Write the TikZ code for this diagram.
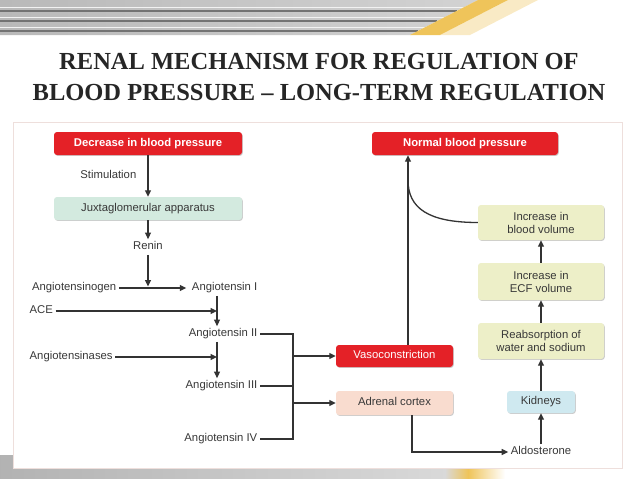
\documentclass[tikz,border=0pt]{standalone}
\usepackage{fontspec}
\setmainfont{Liberation Sans}
\newfontfamily\titlefont[Ligatures=TeX]{Liberation Serif}
\usetikzlibrary{arrows.meta,shadows}
\definecolor{bpred}{HTML}{E42127}
\definecolor{jgagreen}{HTML}{D3EADF}
\definecolor{volyellow}{HTML}{EDEFC8}
\definecolor{adrpeach}{HTML}{F9DCCF}
\definecolor{kidblue}{HTML}{CFE9F0}
\definecolor{txt}{HTML}{383838}
\definecolor{txtline}{HTML}{333333}
\definecolor{titlegray}{HTML}{262626}
\definecolor{bandyellow}{HTML}{EFC45A}
\definecolor{panelrim}{HTML}{EEDFDC}
\newcommand{\bodyfont}{\fontsize{11.3}{13}\selectfont}

\begin{document}
\begin{tikzpicture}[x = 1pt, y = -1pt,
	every node/.style = {font = \bodyfont, text = txt},
	lbl/.style = {text height = 8pt, text depth = 2.4pt, inner sep = 2.5pt},
	boxshadow/.style = {drop shadow = {shadow xshift = .8pt, shadow yshift = -.9pt, fill = black, opacity = .2}},
	box/.style = {lbl, rounded corners = 3pt, minimum height = 23pt, boxshadow},
	redbox/.style = {box, fill = bpred, text = white},
	tallbox/.style = {rounded corners = 3pt, align = center, fill = volyellow, minimum width = 126pt, minimum height = 36pt, boxshadow},
	ln/.style = {draw = txtline, line width = 1.3pt},
	arr/.style = {ln, -{Triangle[length = 6.5pt, width = 6pt]}}]
	\useasboundingbox (0, 0) rectangle (638, 479);

	% top and bottom bands
	\shade [left color = gray!55, right color = gray!35] (0, 0) -- (478, 0) -- (410, 35) -- (0, 35) -- cycle;
	\foreach \y/\e in {11/457, 21/437, 31/418}{
		\draw [black!55, line width = 1.8pt] (0, \y) -- (\e, \y);
		\draw [white!90!gray, line width = 1pt] (0, \y - 4) -- (\e + 7, \y - 4);}
	\fill [bandyellow] (478, 0) -- (410, 35) -- (440, 35) -- (508, 0) -- cycle;
	\fill [bandyellow, opacity = .35] (508, 0) -- (440, 35) -- (470, 35) -- (538, 0) -- cycle;
	\shade [left color = gray!60, right color = gray!30] (0, 455) rectangle (445, 479);
	\shade [left color = gray!30, right color = bandyellow] (445, 455) rectangle (468, 479);
	\shade [left color = bandyellow, right color = white] (468, 455) rectangle (505, 479);
	\draw [draw = panelrim, fill = white] (13, 122) rectangle (622, 468);

	% title
	\node [font = \titlefont\fontsize{24.5}{31}\selectfont\bfseries, text = titlegray, align = center] (title) at (319, 77.5)
		{RENAL MECHANISM FOR REGULATION OF\\BLOOD PRESSURE – LONG-TERM REGULATION};

	% left column
	\node [redbox, font = \bodyfont\bfseries, minimum width = 188pt] (decrease) at (148, 143.5) {Decrease in blood pressure};
	\node [lbl, anchor = east] (stim) at (139, 176) {Stimulation};
	\node [box, fill = jgagreen, minimum width = 188pt] (jga) at (148, 208.5) {Juxtaglomerular apparatus};
	\node [lbl] (renin) at (148, 247) {Renin};
	\node [lbl, anchor = east] (agen) at (119, 288) {Angiotensinogen};
	\node [lbl, anchor = east] (ang1) at (260, 288) {Angiotensin I};
	\node [lbl, anchor = west] (ace) at (27, 311) {ACE};
	\node [lbl, anchor = east] (ang2) at (260, 334) {Angiotensin II};
	\node [lbl, anchor = west] (ases) at (27, 357) {Angiotensinases};
	\node [lbl, anchor = east] (ang3) at (260, 386) {Angiotensin III};
	\node [lbl, anchor = east] (ang4) at (260, 439) {Angiotensin IV};

	% middle and right column
	\node [redbox, minimum width = 117pt, minimum height = 22pt] (vaso) at (394.5, 356) {Vasoconstriction};
	\node [box, fill = adrpeach, minimum width = 117pt, minimum height = 24pt] (adrenal) at (394.5, 403) {Adrenal cortex};
	\node [redbox, font = \bodyfont\bfseries, minimum width = 186pt] (normal) at (465, 143.5) {Normal blood pressure};
	\node [tallbox, minimum height = 35pt] (bloodvol) at (541, 222.5) {Increase in\\blood volume};
	\node [tallbox, minimum height = 37pt] (ecf) at (541, 281.5) {Increase in\\ECF volume};
	\node [tallbox] (reabs) at (541, 341) {Reabsorption of\\water and sodium};
	\node [box, fill = kidblue, minimum width = 68pt, minimum height = 22pt] (kidneys) at (541, 402) {Kidneys};
	\node [lbl] (aldo) at (541, 452) {Aldosterone};

	\coordinate (colx) at (217, 0);
	\coordinate (brk) at (293, 0);
	\coordinate (upx) at (408, 0);
	\coordinate (adx) at (412, 0);
	\coordinate (join) at (408, 180);

	% connectors
	\draw [arr] (decrease) -- (jga);
	\draw [arr] (jga) -- (renin);
	\draw [arr, shorten > = 1.5pt] (renin) -- (renin |- agen);
	\draw [arr, shorten > = 3pt] (agen) -- (ang1);
	\draw [arr] (ang1.south -| colx) -- (ang2.north -| colx);
	\draw [arr] (ace) -- (ace -| colx);
	\draw [arr] (ang2.south -| colx) -- (ang3.north -| colx);
	\draw [arr] (ases) -- (ases -| colx);
	\draw [ln] (ang2) -- (ang2 -| brk) -- (ang4 -| brk) -- (ang4);
	\draw [ln] (ang3) -- (ang3 -| brk);
	\draw [arr] (vaso -| brk) -- (vaso);
	\draw [arr] (adrenal -| brk) -- (adrenal);
	\draw [arr] (vaso.north -| upx) -- (normal.south -| upx);
	\draw [ln] (bloodvol) .. controls (428, 222.5) and (408, 208) .. (join);
	\foreach \a/\b in {ecf/bloodvol, reabs/ecf, kidneys/reabs, aldo/kidneys}{
		\draw [arr] (\a) -- (\b);}
	\draw [arr] (adrenal.south -| adx) |- (aldo);
\end{tikzpicture}
\end{document}
